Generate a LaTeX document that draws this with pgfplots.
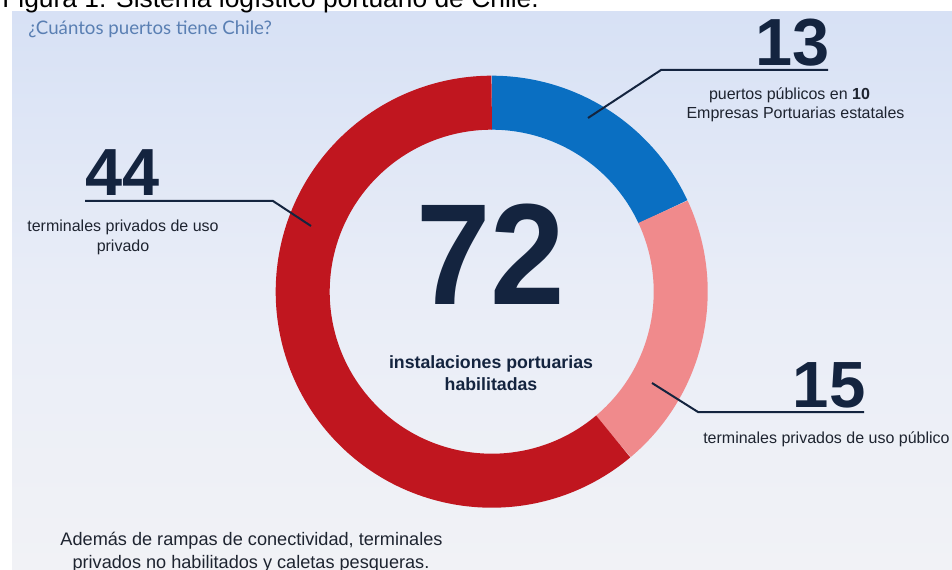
\documentclass[border=0pt]{standalone}
\usepackage{pgfplots}
\usepackage{pgfplotstable}
\pgfplotsset{compat=1.18}
\usepackage{fontspec}
\setmainfont{Liberation Sans}
\newfontfamily\lato{Lato}
\definecolor{cblue}{HTML}{0A6FC2}
\definecolor{cpink}{HTML}{F08A8C}
\definecolor{cred}{HTML}{C0161F}
\definecolor{navy}{HTML}{14243F}
\definecolor{txt}{HTML}{1E2430}
\definecolor{qblue}{HTML}{5A7FB3}
\definecolor{bgtop}{HTML}{D7E1F5}
\definecolor{bgmid}{HTML}{E9EDF7}
\definecolor{bgbot}{HTML}{F1F2F6}

\pgfplotstableread{
name value
publicos 13
privpub 15
privpriv 44
}\portdata

\begin{document}%
\begin{tikzpicture}
\pgfplotstablegetelem{0}{value}\of\portdata \let\va\pgfplotsretval
\pgfplotstablegetelem{1}{value}\of\portdata \let\vb\pgfplotsretval
\pgfplotstablegetelem{2}{value}\of\portdata \let\vc\pgfplotsretval
\pgfmathsetmacro\tot{\va+\vb+\vc}
\pgfmathsetmacro\aA{90}
\pgfmathsetmacro\aB{90-360*\va/\tot}
\pgfmathsetmacro\aC{\aB-360*\vb/\tot}
\pgfmathsetmacro\aD{\aC-360*\vc/\tot}
\begin{axis}[
  at={(0,0)}, anchor=south west,
  scale only axis, width=714pt, height=427.5pt,
  xmin=0, xmax=952, ymin=0, ymax=570, y dir=reverse,
  hide axis, clip=true,
]
% background
\fill[white] (axis cs:0,0) rectangle (axis cs:952,570);
\shade[top color=bgtop, bottom color=bgbot, middle color=bgmid] (axis cs:12,12) rectangle (axis cs:952,570);
\node[anchor=base west, font=\fontsize{19.8pt}{22pt}\selectfont, text=black, inner sep=0pt] at (axis cs:2,8) {Figura 1: Sistema logístico portuario de Chile.};
\node[anchor=base west, font=\lato\fontsize{14pt}{16pt}\selectfont, text=qblue, inner sep=0pt] at (axis cs:28,35) {¿Cuántos puertos tiene Chile?};
% donut
\coordinate (C) at (axis cs:491.7,291.7);
\draw[cblue, line width=40.5pt] ([shift={(\aA:141.75pt)}]C) arc[start angle=\aA, end angle=\aB, radius=141.75pt];
\draw[cpink, line width=40.5pt] ([shift={(\aB:141.75pt)}]C) arc[start angle=\aB, end angle=\aC, radius=141.75pt];
\draw[cred, line width=40.5pt] ([shift={(\aC:141.75pt)}]C) arc[start angle=\aC, end angle=\aD, radius=141.75pt];
% center text
\node[anchor=base, font=\bfseries\fontsize{108pt}{110pt}\selectfont, text=navy, inner sep=0pt, xscale=0.93] at (axis cs:491,304) {72};
\node[anchor=base, font=\bfseries\fontsize{13.3pt}{15pt}\selectfont, text=navy, inner sep=0pt] at (axis cs:491,368) {instalaciones portuarias};
\node[anchor=base, font=\bfseries\fontsize{13.3pt}{15pt}\selectfont, text=navy, inner sep=0pt] at (axis cs:491,390) {habilitadas};
% leaders
\draw[navy, line width=1.5pt] (axis cs:588,118) -- (axis cs:661,70) -- (axis cs:828,70);
\draw[navy, line width=1.5pt] (axis cs:311,226) -- (axis cs:273,201) -- (axis cs:85,201);
\draw[navy, line width=1.5pt] (axis cs:652,383) -- (axis cs:698,412) -- (axis cs:864,412);
% 13
\node[anchor=base, font=\bfseries\fontsize{50pt}{52pt}\selectfont, text=navy, inner sep=0pt] at (axis cs:792.5,66) {13};
\node[anchor=base, font=\fontsize{12pt}{14pt}\selectfont, text=txt, inner sep=0pt] at (axis cs:789.5,100) {puertos públicos en \textbf{10}};
\node[anchor=base, font=\fontsize{12pt}{14pt}\selectfont, text=txt, inner sep=0pt] at (axis cs:795.5,119) {Empresas Portuarias estatales};
% 44
\node[anchor=base, font=\bfseries\fontsize{50pt}{52pt}\selectfont, text=navy, inner sep=0pt] at (axis cs:122.5,196) {44};
\node[anchor=base, font=\fontsize{12pt}{14pt}\selectfont, text=txt, inner sep=0pt] at (axis cs:123,232) {terminales privados de uso};
\node[anchor=base, font=\fontsize{12pt}{14pt}\selectfont, text=txt, inner sep=0pt] at (axis cs:123,252) {privado};
% 15
\node[anchor=base, font=\bfseries\fontsize{49pt}{52pt}\selectfont, text=navy, inner sep=0pt] at (axis cs:829,407) {15};
\node[anchor=base west, font=\fontsize{12pt}{14pt}\selectfont, text=txt, inner sep=0pt] at (axis cs:703,443) {terminales privados de uso público};
% bottom note
\node[anchor=base, font=\fontsize{13.6pt}{16pt}\selectfont, text=txt, inner sep=0pt] at (axis cs:251.5,545) {Además de rampas de conectividad, terminales};
\node[anchor=base, font=\fontsize{13.6pt}{16pt}\selectfont, text=txt, inner sep=0pt] at (axis cs:251,568) {privados no habilitados y caletas pesqueras.};
\end{axis}
\pgfresetboundingbox
\path[use as bounding box] (0,0) rectangle (714pt,427.5pt);
\end{tikzpicture}%
\end{document}
